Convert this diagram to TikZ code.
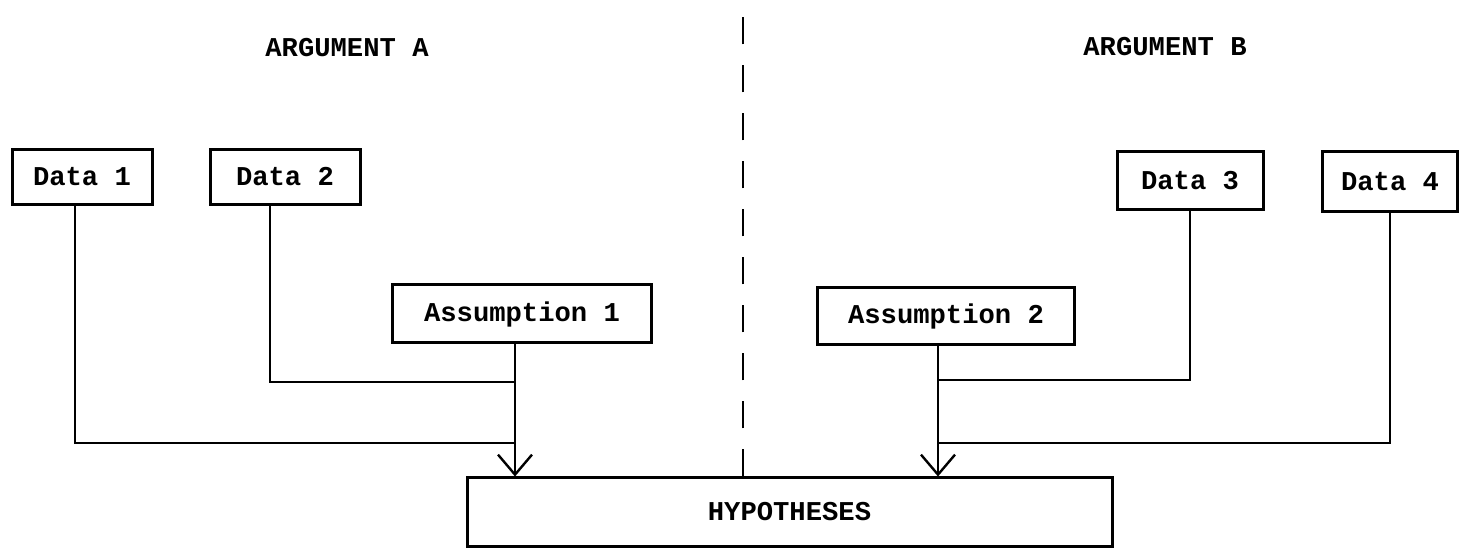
\documentclass[tikz,border=0pt]{standalone}
\usepackage{fontspec}
\setmonofont{Liberation Mono}
\usetikzlibrary{arrows.meta}
\tikzset{
  box/.style={draw, line width=1.5pt, inner sep=0pt, font=\ttfamily\bfseries\fontsize{13.6}{16}\selectfont},
  conn/.style={line width=1.2pt},
  heading/.style={font=\ttfamily\bfseries\fontsize{13.6}{16}\selectfont},
}
\begin{document}
\begin{tikzpicture}[x=0.5pt,y=-0.5pt]
\useasboundingbox (0,0) rectangle (1467,555);

\node[heading] (headA) at (347,48) {ARGUMENT A};
\node[heading] (headB) at (1165,47) {ARGUMENT B};

\node[box, minimum width=70pt, minimum height=27.5pt] (data1) at (82,177) {Data 1};
\node[box, minimum width=75pt, minimum height=27.5pt] (data2) at (285,177) {Data 2};
\node[box, minimum width=129.5pt, minimum height=29pt] (assum1) at (522,314) {Assumption 1};
\node[box, minimum width=128.5pt, minimum height=28.5pt] (assum2) at (946,316) {Assumption 2};
\node[box, minimum width=73pt, minimum height=29pt] (data3) at (1190,181) {Data 3};
\node[box, minimum width=67.5pt, minimum height=30pt] (data4) at (1390,182) {Data 4};
\node[box, minimum width=322.5pt, minimum height=34pt] (hyp) at (789.5,512) {HYPOTHESES};

% dividing line between the two arguments
\coordinate (divtop) at (743,0);
\draw[line width=1.2pt, dash pattern=on 13.5pt off 10.5pt] (hyp.north -| divtop) -- (divtop);

% argument A
\coordinate (tipA) at (515,478);
\draw[conn, -{Straight Barb[length=10pt, width=17pt, line width=1.2pt]}] (assum1.south -| tipA) -- (hyp.north -| tipA);
\draw[conn] ([xshift=-3.5pt]data1.south) |- ([yshift=17.5pt]tipA);
\draw[conn] ([xshift=-7.5pt]data2.south) |- ([yshift=48pt]tipA);

% argument B
\coordinate (tipB) at (938,478);
\draw[conn, -{Straight Barb[length=10pt, width=17pt, line width=1.2pt]}] (assum2.south -| tipB) -- (hyp.north -| tipB);
\draw[conn] (data3.south) |- ([yshift=49pt]tipB);
\draw[conn] (data4.south) |- ([yshift=17.5pt]tipB);

\end{tikzpicture}
\end{document}
